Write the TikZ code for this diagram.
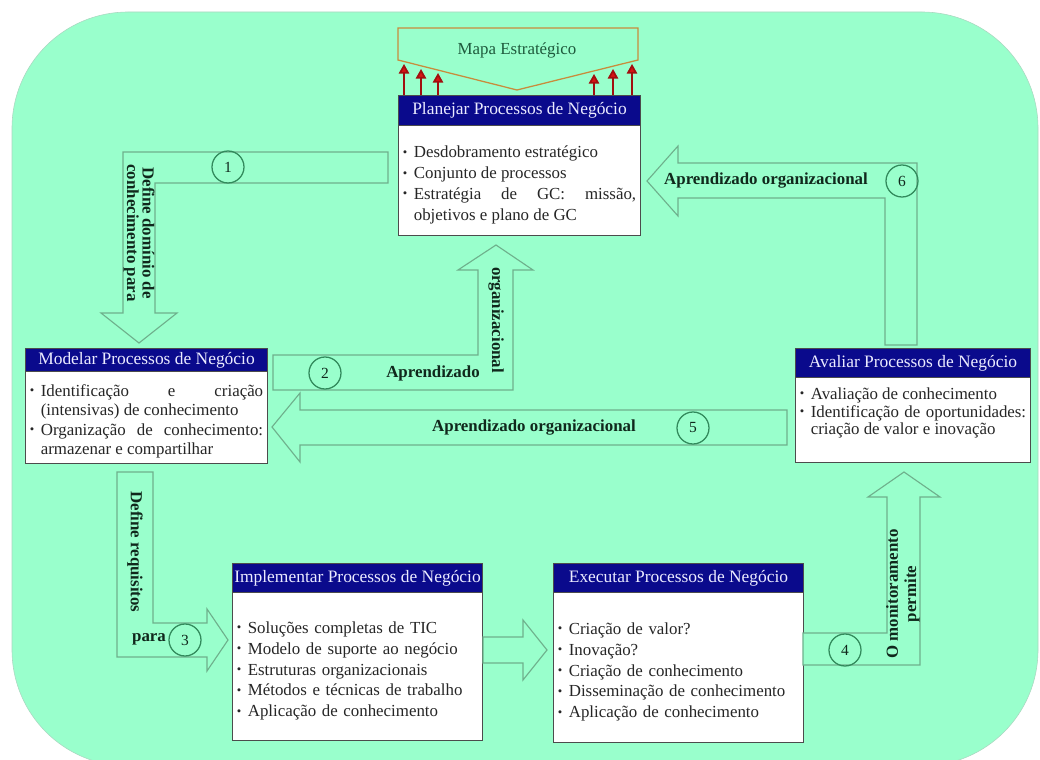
\documentclass[tikz,border=0pt]{standalone}
\usepackage{fontspec}
\setmainfont{Liberation Serif}
\usetikzlibrary{arrows.meta}

\definecolor{menta}{RGB}{153,255,204}
\definecolor{bordafundo}{RGB}{170,215,192}
\definecolor{setabord}{RGB}{110,176,140}
\definecolor{circverde}{RGB}{50,138,92}
\definecolor{azulcab}{RGB}{10,10,140}
\definecolor{textocab}{RGB}{235,235,255}
\definecolor{rotulo}{RGB}{16,40,28}
\definecolor{mapaborda}{RGB}{200,140,60}
\definecolor{mapatexto}{RGB}{30,90,60}
\definecolor{setavermelha}{RGB}{215,20,20}

\hyphenpenalty=10000
\exhyphenpenalty=10000
\newcommand\itm{\par\noindent\hangindent=0.65em\hangafter=1\makebox[0.65em][l]{\raisebox{0.1em}{\fontsize{9}{9}\selectfont\textbullet}}}

\begin{document}
\begin{tikzpicture}[x=0.025cm, y=-0.025cm,
    cab/.style={fill=azulcab, draw=gray!60!black, line width=0.7pt, text=textocab, anchor=north west, inner sep=0pt, font=\fontsize{12.4}{14}\selectfont},
    corpo/.style={fill=white, draw=gray!60!black, line width=0.7pt, anchor=north west, inner xsep=0.11cm, inner ysep=0pt, align=justify, text=black!85, font=\fontsize{12}{14.8}\selectfont},
    bloco/.style={draw=setabord, fill=menta, line width=0.8pt},
    num/.style={circle, draw=circverde, line width=0.9pt, minimum size=0.8cm, inner sep=0pt, text=rotulo, font=\fontsize{11}{11}\selectfont},
    rot/.style={text=rotulo, inner sep=0pt, font=\bfseries\fontsize{12}{13}\selectfont}]

    \useasboundingbox (0,0) rectangle (1040,760);
    \draw[bordafundo, fill=menta, rounded corners=2.9cm] (12,12) rectangle (1038,766);

    \draw[mapaborda, line width=0.9pt] (398,28) -- (638,28) -- (638,60) -- (517,90) -- (398,60) -- cycle;
    \node[text=mapatexto, font=\fontsize{12}{14}\selectfont] (mapa) at (517,50) {Mapa Estratégico};
    \foreach \x/\y in {404/64, 421/69, 438/73, 594/74, 613/69, 632/64}
        \draw[setavermelha!75!black, line width=1.2pt, -{Triangle[length=2.4mm, width=2.6mm, fill=setavermelha]}] (\x,95) -- (\x,\y);

    \node[cab, minimum width=6.05cm, minimum height=0.75cm] (planCab) at (398,95) {Planejar Processos de Negócio};
    \node[corpo, minimum width=6.05cm, minimum height=2.75cm, text width=5.83cm] (plan) at (398,125)
        {\itm Desdobramento estratégico \itm Conjunto de processos \itm Estratégia de GC: missão,\linebreak objetivos e plano de GC\par};

    \node[cab, minimum width=6.05cm, minimum height=0.575cm] (modCab) at (25,348) {Modelar Processos de Negócio};
    \node[corpo, minimum width=6.05cm, minimum height=2.3cm, text width=5.83cm, font=\fontsize{12}{13.8}\selectfont] (mod) at (25,371)
        {\itm Identificação e criação\linebreak (intensivas) de conhecimento \itm Organização de conhecimento:\linebreak armazenar e compartilhar\par};

    \node[cab, minimum width=5.875cm, minimum height=0.725cm] (avaCab) at (795,348) {Avaliar Processos de Negócio};
    \node[corpo, minimum width=5.875cm, minimum height=2.125cm, text width=5.655cm, font=\fontsize{12}{12.6}\selectfont] (ava) at (795,377)
        {\itm Avaliação de conhecimento \itm Identificação de oportunidades:\linebreak criação de valor e inovação\par\vspace{0.5cm}};

    \node[cab, minimum width=6.25cm, minimum height=0.725cm] (impCab) at (232,563) {Implementar Processos de Negócio};
    \node[corpo, minimum width=6.25cm, minimum height=3.7cm, text width=6.03cm, align=left] (imp) at (232,592)
        {\itm Soluções completas de TIC \itm Modelo de suporte ao negócio \itm Estruturas organizacionais \itm Métodos e técnicas de trabalho \itm Aplicação de conhecimento\par};

    \node[cab, minimum width=6.25cm, minimum height=0.725cm] (exeCab) at (553,563) {Executar Processos de Negócio};
    \node[corpo, minimum width=6.25cm, minimum height=3.75cm, text width=6.03cm, align=left] (exe) at (553,592)
        {\itm Criação de valor? \itm Inovação? \itm Criação de conhecimento \itm Disseminação de conhecimento \itm Aplicação de conhecimento\par};

    \draw[bloco] (388,152) -- (123,152) -- (123,313) -- (101,313) -- (139,343) -- (177,313) -- (155,313) -- (155,183) -- (388,183) -- cycle;
    \draw[bloco] (273,355) -- (478,355) -- (478,270) -- (458,270) -- (496,245) -- (533,270) -- (513,270) -- (513,390) -- (273,390) -- cycle;
    \draw[bloco] (117,472) -- (117,657) -- (207,657) -- (207,671) -- (228,640) -- (207,609) -- (207,623) -- (153,623) -- (153,472) -- cycle;
    \draw[bloco] (483,637) -- (523,637) -- (523,620) -- (547,650) -- (523,680) -- (523,663) -- (483,663) -- cycle;
    \draw[bloco] (803,633) -- (887,633) -- (887,497) -- (868,497) -- (904,472) -- (940,497) -- (920,497) -- (920,665) -- (803,665) -- cycle;
    \draw[bloco] (787,410) -- (300,410) -- (300,393) -- (272,427) -- (300,462) -- (300,445) -- (787,445) -- cycle;
    \draw[bloco] (885,345) -- (885,198) -- (678,198) -- (678,216) -- (647,181) -- (678,146) -- (678,163) -- (917,163) -- (917,345) -- cycle;

    \node[num] (n1) at (228,167) {1};
    \node[num] (n2) at (325,373) {2};
    \node[num] (n3) at (185,640) {3};
    \node[num] (n4) at (845,650) {4};
    \node[num] (n5) at (693,428) {5};
    \node[num] (n6) at (902,181) {6};

    \node[rot, rotate=-90, align=center, font=\bfseries\fontsize{12}{11}\selectfont] (lblDominio) at (139,233) {Define domínio de\\conhecimento para};
    \node[rot, rotate=-90] (lblRequisitos) at (135,552) {Define requisitos};
    \node[rot] (lblPara) at (149,639) {para};
    \node[rot] (lblAprend2) at (433,373) {Aprendizado};
    \node[rot, rotate=-90] (lblOrg2) at (496,320) {organizacional};
    \node[rot] (lblAprend5) at (534,428) {Aprendizado organizacional};
    \node[rot] (lblAprend6) at (766,181) {Aprendizado organizacional};
    \node[rot, rotate=90, align=center] (lblMonit) at (903,594) {O monitoramento\\permite};
\end{tikzpicture}
\end{document}
